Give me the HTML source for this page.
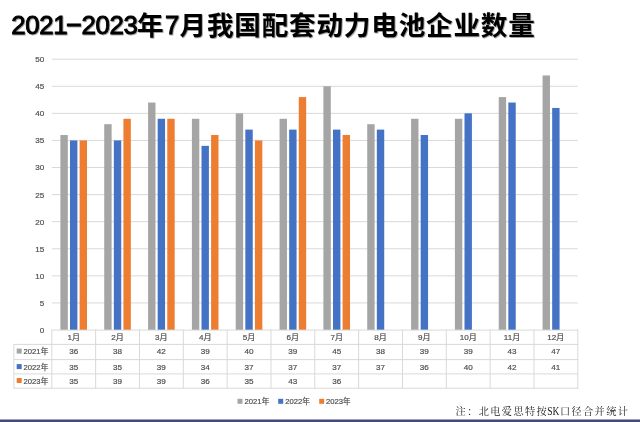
<!DOCTYPE html>
<html lang="zh-CN"><head><meta charset="utf-8"><title>2021-2023年7月我国配套动力电池企业数量</title>
<style>
html,body{margin:0;padding:0;background:#fff;}
body{width:640px;height:422px;overflow:hidden;position:relative;}
svg{position:absolute;left:0;top:0;display:block;}
.t{font-family:"Liberation Sans","Noto Sans CJK SC",sans-serif;font-size:8.1px;fill:#505050;stroke:#505050;stroke-width:0.2px;}
.ttl{font-family:"Liberation Sans","Noto Sans CJK SC",sans-serif;font-weight:bold;fill:#000;}
.dg{font-size:25.8px;font-weight:normal;stroke:#000;stroke-width:0.9px;letter-spacing:-0.3px;}.cj{font-size:26.6px;letter-spacing:0.8px;}
.note{font-family:"Liberation Serif","Noto Serif CJK SC",serif;font-size:10.2px;letter-spacing:1.38px;fill:#1a1a1a;}.sk{font-size:11.6px;letter-spacing:0;}
</style></head><body>
<svg width="640" height="422" viewBox="0 0 640 422">
<defs><filter id="sh" x="-5%" y="-20%" width="110%" height="150%"><feDropShadow dx="0.8" dy="0.8" stdDeviation="0.6" flood-color="#000" flood-opacity="0.45"/></filter></defs>
<rect width="640" height="422" fill="#fff"/>
<rect x="51.80" y="302.42" width="526.00" height="1" fill="#d9d9d9"/>
<rect x="51.80" y="275.34" width="526.00" height="1" fill="#d9d9d9"/>
<rect x="51.80" y="248.26" width="526.00" height="1" fill="#d9d9d9"/>
<rect x="51.80" y="221.18" width="526.00" height="1" fill="#d9d9d9"/>
<rect x="51.80" y="194.10" width="526.00" height="1" fill="#d9d9d9"/>
<rect x="51.80" y="167.02" width="526.00" height="1" fill="#d9d9d9"/>
<rect x="51.80" y="139.94" width="526.00" height="1" fill="#d9d9d9"/>
<rect x="51.80" y="112.86" width="526.00" height="1" fill="#d9d9d9"/>
<rect x="51.80" y="85.78" width="526.00" height="1" fill="#d9d9d9"/>
<rect x="51.80" y="58.70" width="526.00" height="1" fill="#d9d9d9"/>
<rect x="60.40" y="135.02" width="7.40" height="194.98" fill="#a5a5a5"/>
<rect x="104.23" y="124.19" width="7.40" height="205.81" fill="#a5a5a5"/>
<rect x="148.07" y="102.53" width="7.40" height="227.47" fill="#a5a5a5"/>
<rect x="191.90" y="118.78" width="7.40" height="211.22" fill="#a5a5a5"/>
<rect x="235.73" y="113.36" width="7.40" height="216.64" fill="#a5a5a5"/>
<rect x="279.57" y="118.78" width="7.40" height="211.22" fill="#a5a5a5"/>
<rect x="323.40" y="86.28" width="7.40" height="243.72" fill="#a5a5a5"/>
<rect x="367.23" y="124.19" width="7.40" height="205.81" fill="#a5a5a5"/>
<rect x="411.07" y="118.78" width="7.40" height="211.22" fill="#a5a5a5"/>
<rect x="454.90" y="118.78" width="7.40" height="211.22" fill="#a5a5a5"/>
<rect x="498.73" y="97.11" width="7.40" height="232.89" fill="#a5a5a5"/>
<rect x="542.57" y="75.45" width="7.40" height="254.55" fill="#a5a5a5"/>
<rect x="70.00" y="140.44" width="7.40" height="189.56" fill="#4472c4"/>
<rect x="113.83" y="140.44" width="7.40" height="189.56" fill="#4472c4"/>
<rect x="157.67" y="118.78" width="7.40" height="211.22" fill="#4472c4"/>
<rect x="201.50" y="145.86" width="7.40" height="184.14" fill="#4472c4"/>
<rect x="245.33" y="129.61" width="7.40" height="200.39" fill="#4472c4"/>
<rect x="289.17" y="129.61" width="7.40" height="200.39" fill="#4472c4"/>
<rect x="333.00" y="129.61" width="7.40" height="200.39" fill="#4472c4"/>
<rect x="376.83" y="129.61" width="7.40" height="200.39" fill="#4472c4"/>
<rect x="420.67" y="135.02" width="7.40" height="194.98" fill="#4472c4"/>
<rect x="464.50" y="113.36" width="7.40" height="216.64" fill="#4472c4"/>
<rect x="508.33" y="102.53" width="7.40" height="227.47" fill="#4472c4"/>
<rect x="552.17" y="107.94" width="7.40" height="222.06" fill="#4472c4"/>
<rect x="79.60" y="140.44" width="7.40" height="189.56" fill="#ed7d31"/>
<rect x="123.43" y="118.78" width="7.40" height="211.22" fill="#ed7d31"/>
<rect x="167.27" y="118.78" width="7.40" height="211.22" fill="#ed7d31"/>
<rect x="211.10" y="135.02" width="7.40" height="194.98" fill="#ed7d31"/>
<rect x="254.93" y="140.44" width="7.40" height="189.56" fill="#ed7d31"/>
<rect x="298.77" y="97.11" width="7.40" height="232.89" fill="#ed7d31"/>
<rect x="342.60" y="135.02" width="7.40" height="194.98" fill="#ed7d31"/>
<rect x="51.80" y="329.60" width="526.50" height="1" fill="#d9d9d9"/>
<rect x="13.90" y="343.90" width="564.40" height="1" fill="#d9d9d9"/>
<rect x="13.90" y="359.10" width="564.40" height="1" fill="#d9d9d9"/>
<rect x="13.90" y="373.40" width="564.40" height="1" fill="#d9d9d9"/>
<rect x="13.90" y="387.70" width="564.40" height="1" fill="#d9d9d9"/>
<rect x="51.30" y="329.60" width="1" height="59.10" fill="#d9d9d9"/>
<rect x="95.13" y="329.60" width="1" height="59.10" fill="#d9d9d9"/>
<rect x="138.97" y="329.60" width="1" height="59.10" fill="#d9d9d9"/>
<rect x="182.80" y="329.60" width="1" height="59.10" fill="#d9d9d9"/>
<rect x="226.63" y="329.60" width="1" height="59.10" fill="#d9d9d9"/>
<rect x="270.47" y="329.60" width="1" height="59.10" fill="#d9d9d9"/>
<rect x="314.30" y="329.60" width="1" height="59.10" fill="#d9d9d9"/>
<rect x="358.13" y="329.60" width="1" height="59.10" fill="#d9d9d9"/>
<rect x="401.97" y="329.60" width="1" height="59.10" fill="#d9d9d9"/>
<rect x="445.80" y="329.60" width="1" height="59.10" fill="#d9d9d9"/>
<rect x="489.63" y="329.60" width="1" height="59.10" fill="#d9d9d9"/>
<rect x="533.47" y="329.60" width="1" height="59.10" fill="#d9d9d9"/>
<rect x="577.30" y="329.60" width="1" height="59.10" fill="#d9d9d9"/>
<rect x="13.40" y="343.90" width="1" height="44.80" fill="#d9d9d9"/>
<text class="t" x="44.2" y="332.90" text-anchor="end">0</text>
<text class="t" x="44.2" y="305.82" text-anchor="end">5</text>
<text class="t" x="44.2" y="278.74" text-anchor="end">10</text>
<text class="t" x="44.2" y="251.66" text-anchor="end">15</text>
<text class="t" x="44.2" y="224.58" text-anchor="end">20</text>
<text class="t" x="44.2" y="197.50" text-anchor="end">25</text>
<text class="t" x="44.2" y="170.42" text-anchor="end">30</text>
<text class="t" x="44.2" y="143.34" text-anchor="end">35</text>
<text class="t" x="44.2" y="116.26" text-anchor="end">40</text>
<text class="t" x="44.2" y="89.18" text-anchor="end">45</text>
<text class="t" x="44.2" y="62.10" text-anchor="end">50</text>
<text class="t" x="73.72" y="340.25" text-anchor="middle">1月</text>
<text class="t" x="73.72" y="354.10" text-anchor="middle">36</text>
<text class="t" x="73.72" y="369.60" text-anchor="middle">35</text>
<text class="t" x="73.72" y="383.50" text-anchor="middle">35</text>
<text class="t" x="117.55" y="340.25" text-anchor="middle">2月</text>
<text class="t" x="117.55" y="354.10" text-anchor="middle">38</text>
<text class="t" x="117.55" y="369.60" text-anchor="middle">35</text>
<text class="t" x="117.55" y="383.50" text-anchor="middle">39</text>
<text class="t" x="161.38" y="340.25" text-anchor="middle">3月</text>
<text class="t" x="161.38" y="354.10" text-anchor="middle">42</text>
<text class="t" x="161.38" y="369.60" text-anchor="middle">39</text>
<text class="t" x="161.38" y="383.50" text-anchor="middle">39</text>
<text class="t" x="205.22" y="340.25" text-anchor="middle">4月</text>
<text class="t" x="205.22" y="354.10" text-anchor="middle">39</text>
<text class="t" x="205.22" y="369.60" text-anchor="middle">34</text>
<text class="t" x="205.22" y="383.50" text-anchor="middle">36</text>
<text class="t" x="249.05" y="340.25" text-anchor="middle">5月</text>
<text class="t" x="249.05" y="354.10" text-anchor="middle">40</text>
<text class="t" x="249.05" y="369.60" text-anchor="middle">37</text>
<text class="t" x="249.05" y="383.50" text-anchor="middle">35</text>
<text class="t" x="292.88" y="340.25" text-anchor="middle">6月</text>
<text class="t" x="292.88" y="354.10" text-anchor="middle">39</text>
<text class="t" x="292.88" y="369.60" text-anchor="middle">37</text>
<text class="t" x="292.88" y="383.50" text-anchor="middle">43</text>
<text class="t" x="336.72" y="340.25" text-anchor="middle">7月</text>
<text class="t" x="336.72" y="354.10" text-anchor="middle">45</text>
<text class="t" x="336.72" y="369.60" text-anchor="middle">37</text>
<text class="t" x="336.72" y="383.50" text-anchor="middle">36</text>
<text class="t" x="380.55" y="340.25" text-anchor="middle">8月</text>
<text class="t" x="380.55" y="354.10" text-anchor="middle">38</text>
<text class="t" x="380.55" y="369.60" text-anchor="middle">37</text>
<text class="t" x="424.38" y="340.25" text-anchor="middle">9月</text>
<text class="t" x="424.38" y="354.10" text-anchor="middle">39</text>
<text class="t" x="424.38" y="369.60" text-anchor="middle">36</text>
<text class="t" x="468.22" y="340.25" text-anchor="middle">10月</text>
<text class="t" x="468.22" y="354.10" text-anchor="middle">39</text>
<text class="t" x="468.22" y="369.60" text-anchor="middle">40</text>
<text class="t" x="512.05" y="340.25" text-anchor="middle">11月</text>
<text class="t" x="512.05" y="354.10" text-anchor="middle">43</text>
<text class="t" x="512.05" y="369.60" text-anchor="middle">42</text>
<text class="t" x="555.88" y="340.25" text-anchor="middle">12月</text>
<text class="t" x="555.88" y="354.10" text-anchor="middle">47</text>
<text class="t" x="555.88" y="369.60" text-anchor="middle">41</text>
<rect x="16.7" y="348.60" width="5" height="5" fill="#a5a5a5"/>
<text class="t" x="23.6" y="354.10" textLength="24.7" lengthAdjust="spacingAndGlyphs">2021年</text>
<rect x="16.7" y="364.10" width="5" height="5" fill="#4472c4"/>
<text class="t" x="23.6" y="369.60" textLength="24.7" lengthAdjust="spacingAndGlyphs">2022年</text>
<rect x="16.7" y="378.00" width="5" height="5" fill="#ed7d31"/>
<text class="t" x="23.6" y="383.50" textLength="24.7" lengthAdjust="spacingAndGlyphs">2023年</text>
<rect x="237.50" y="398.8" width="5" height="5" fill="#a5a5a5"/>
<text class="t" x="244.60" y="404.2" textLength="24.7" lengthAdjust="spacingAndGlyphs">2021年</text>
<rect x="278.20" y="398.8" width="5" height="5" fill="#4472c4"/>
<text class="t" x="285.20" y="404.2" textLength="24.7" lengthAdjust="spacingAndGlyphs">2022年</text>
<rect x="319.20" y="398.8" width="5" height="5" fill="#ed7d31"/>
<text class="t" x="326.00" y="404.2" textLength="24.7" lengthAdjust="spacingAndGlyphs">2023年</text>
<g filter="url(#sh)">
<text class="ttl" y="34.2"><tspan class="dg" x="11.2">2021</tspan><tspan class="dg" x="65.5" dy="-2.6" textLength="16.2" lengthAdjust="spacingAndGlyphs">-</tspan><tspan class="dg" x="81.45" dy="2.6">2023</tspan><tspan class="cj" x="137.1" dy="1.1">年</tspan><tspan class="dg" x="165.05" dy="-1.1">7</tspan><tspan class="cj" x="179.5" dy="1.1">月我国配套动力电池企业数量</tspan></text>
</g>
<text class="note" y="415.3"><tspan x="455.6">注：北电爱思特按</tspan><tspan class="sk" x="547.3" textLength="12.2" lengthAdjust="spacingAndGlyphs">SK</tspan><tspan x="559.9">口径合并统计</tspan></text>
<rect x="0" y="419" width="640" height="1" fill="#9fa3ba"/>
<rect x="0" y="420" width="640" height="2" fill="#404a7c"/>
</svg>
</body></html>
